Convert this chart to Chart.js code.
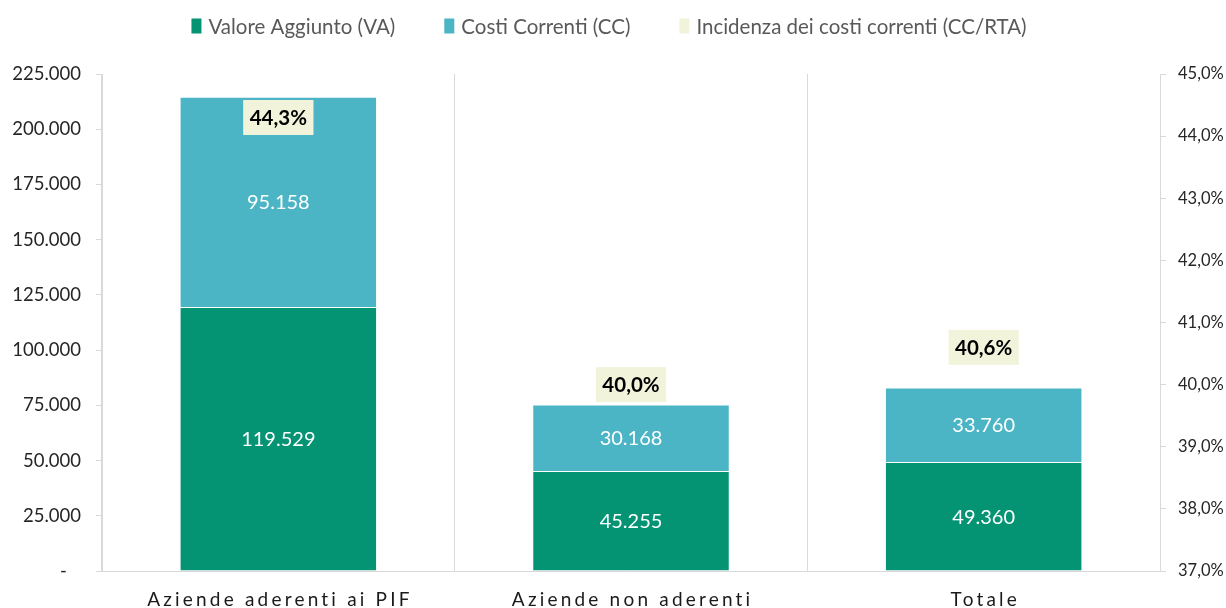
<!DOCTYPE html>
<html lang="it">
<head>
<meta charset="UTF-8">
<title>Valore aggiunto e costi correnti</title>
<script src="https://cdn.jsdelivr.net/npm/chart.js"></script>
<style>
    html, body { margin: 0; padding: 0; background: #fff; }
    #wrap { width: 1226px; height: 608px; position: relative; }
</style>
</head>
<body>
<div id="wrap"><canvas id="chart"></canvas></div>
<script>
// dati
const categories = ['Aziende aderenti ai PIF', 'Aziende non aderenti', 'Totale'];
const valoreAggiunto = [119529, 45255, 49360];
const costiCorrenti = [95158, 30168, 33760];
const incidenza = [44.3, 40.0, 40.6];
const seriesNames = ['Valore Aggiunto (VA)', 'Costi Correnti (CC)', 'Incidenza dei costi correnti (CC/RTA)'];

// assi
const leftMax = 225000, leftStep = 25000;
const rightMin = 37, rightMax = 45, rightStep = 1;

const FONT = 'Lato, "Open Sans", sans-serif';

function fmtNum(v) {
    return String(Math.round(v)).replace(/\B(?=(\d{3})+(?!\d))/g, '.');
}
function fmtPct(v) {
    return v.toFixed(1).replace('.', ',') + '%';
}

// legenda disegnata a mano (centrata in alto)
const topLegend = {
    id: 'topLegend',
    afterDraw(chart) {
        const ctx = chart.ctx;
        const ds = chart.data.datasets;
        ctx.save();
        ctx.font = '20.5px ' + FONT;
        ctx.textBaseline = 'middle';
        const boxW = 10, boxH = 15, gapBox = 7, gapItem = 49;
        const widths = ds.map(d => boxW + gapBox + ctx.measureText(d.label).width);
        const total = widths.reduce((a, b) => a + b, 0) + gapItem * (ds.length - 1);
        let x = chart.width / 2 - total / 2 - 4;
        const y = 26;
        ds.forEach((d, i) => {
            ctx.fillStyle = d.legendColor;
            ctx.fillRect(x, y - boxH / 2, boxW, boxH);
            ctx.fillStyle = '#595959';
            ctx.fillText(d.label, x + boxW + gapBox, y + 1);
            x += widths[i] + gapItem;
        });
        ctx.restore();
    }
};

// etichette dentro le barre e riquadri percentuali
const valueLabels = {
    id: 'valueLabels',
    afterDatasetsDraw(chart) {
        const ctx = chart.ctx;
        ctx.save();
        ctx.textAlign = 'center';
        ctx.textBaseline = 'middle';
        chart.data.datasets.forEach((d, di) => {
            const meta = chart.getDatasetMeta(di);
            meta.data.forEach((el, i) => {
                const v = d.data[i];
                if (d.type === 'line') {
                    const txt = fmtPct(v);
                    ctx.font = 'bold 20.5px ' + FONT;
                    const w = ctx.measureText(txt).width + 13;
                    const h = 35;
                    ctx.fillStyle = '#F1F4DB';
                    ctx.fillRect(el.x - w / 2, el.y - h / 2, w, h);
                    ctx.fillStyle = '#000';
                    ctx.fillText(txt, el.x, el.y + 1);
                } else {
                    ctx.font = '20px ' + FONT;
                    ctx.fillStyle = '#fff';
                    ctx.fillText(fmtNum(v), el.x, (el.y + el.base) / 2 + 1);
                }
            });
        });
        ctx.restore();
    }
};

// etichette asse x con spaziatura delle lettere
const spacedXLabels = {
    id: 'spacedXLabels',
    afterDraw(chart) {
        const ctx = chart.ctx;
        const xs = chart.scales.x;
        const sp = 3.2;
        ctx.save();
        ctx.font = '19px ' + FONT;
        ctx.fillStyle = '#1a1a1a';
        ctx.textAlign = 'center';
        ctx.textBaseline = 'middle';
        ctx.letterSpacing = sp + 'px';
        chart.data.labels.forEach((lab, i) => {
            ctx.fillText(lab, xs.getPixelForValue(i) + sp / 2, 600);
        });
        ctx.restore();
    }
};

new Chart(document.getElementById('chart'), {
    type: 'bar',
    data: {
        labels: categories,
        datasets: [
            {
                label: seriesNames[0],
                data: valoreAggiunto,
                backgroundColor: '#049474',
                legendColor: '#049474',
                borderColor: 'rgba(255,255,255,0.3)',
                borderWidth: 1,
                stack: 's',
                order: 2
            },
            {
                label: seriesNames[1],
                data: costiCorrenti,
                backgroundColor: '#4BB5C5',
                legendColor: '#4BB5C5',
                borderColor: 'rgba(255,255,255,0.3)',
                borderWidth: 1,
                stack: 's',
                order: 2
            },
            {
                type: 'line',
                label: seriesNames[2],
                data: incidenza,
                yAxisID: 'y1',
                showLine: false,
                pointRadius: 0,
                backgroundColor: '#F1F4DB',
                legendColor: '#F1F4DB',
                order: 1
            }
        ]
    },
    options: {
        responsive: true,
        maintainAspectRatio: false,
        animation: false,
        categoryPercentage: 0.8,
        barPercentage: 0.7,
        layout: { padding: { top: 74, left: 0, right: 0, bottom: 0 } },
        plugins: {
            legend: { display: false },
            tooltip: { enabled: false }
        },
        scales: {
            x: {
                stacked: true,
                grid: { color: '#d9d9d9', drawTicks: false, offset: true },
                border: { color: '#d9d9d9' },
                ticks: { color: 'rgba(0,0,0,0)', font: { family: FONT, size: 18 } },
                afterFit(s) { s.height = 37; }
            },
            y: {
                stacked: true,
                position: 'left',
                min: 0,
                max: leftMax,
                ticks: {
                    stepSize: leftStep,
                    padding: 15,
                    color: '#262626',
                    font: { family: FONT, size: 18.5 },
                    callback: v => v === 0 ? '-   ' : fmtNum(v)
                },
                grid: { drawOnChartArea: false, tickLength: 6, color: '#d9d9d9' },
                border: { color: '#d9d9d9' },
                afterFit(s) { s.width = 102; }
            },
            y1: {
                position: 'right',
                min: rightMin,
                max: rightMax,
                ticks: {
                    stepSize: rightStep,
                    padding: 12,
                    color: '#262626',
                    font: { family: FONT, size: 16.5 },
                    callback: v => fmtPct(v)
                },
                grid: { drawOnChartArea: false, tickLength: 6, color: '#d9d9d9' },
                border: { color: '#d9d9d9' },
                afterFit(s) { s.width = 66; }
            }
        }
    },
    plugins: [topLegend, valueLabels, spacedXLabels]
});
</script>
</body>
</html>
